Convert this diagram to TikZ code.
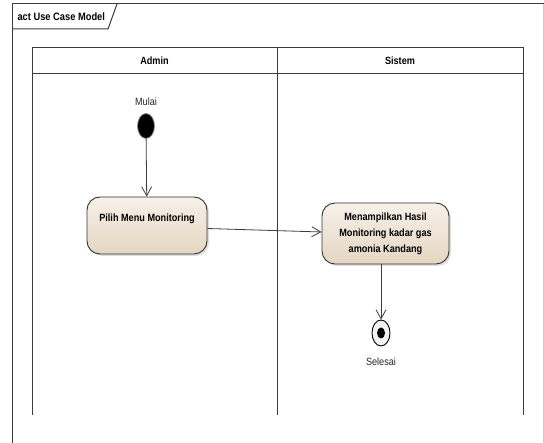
\documentclass[tikz,border=0pt]{standalone}
\usepackage{fontspec}
\setmainfont{Liberation Sans}
\newfontfamily\diagfont[FakeStretch=0.87]{Liberation Sans}
\usetikzlibrary{positioning}
\usetikzlibrary{arrows,arrows.meta}
\usetikzlibrary{shadows}
\usetikzlibrary{shapes,shapes.geometric}

\definecolor{actfill}{HTML}{F1E7D9}
\definecolor{actdark}{HTML}{E4D6C2}
\definecolor{linegray}{HTML}{3C3C3C}

\begin{document}
\begin{tikzpicture}[
        x=1pt, y=-1pt,
        >={Straight Barb[length=9pt,width=10pt]},
        frameline/.style = {draw=linegray, line width=1pt},
        action/.style = {draw=black!80, line width=0.9pt, rounded corners=13pt, top color=actfill!60, bottom color=actdark,
            drop shadow={shadow xshift=2pt, shadow yshift=-2pt, opacity=0.25}, font=\diagfont\fontsize{10.5}{16}\selectfont\bfseries,
            align=center, inner sep=0pt},
        flow/.style = {->, draw=linegray, line width=0.8pt},
        lbl/.style = {font=\diagfont\fontsize{10.5}{10}\selectfont, text=black!85},
        lanehead/.style = {font=\diagfont\fontsize{10.5}{10}\selectfont\bfseries}
    ]
    \useasboundingbox[fill=white] (0,0) rectangle (544,443);
    % frame with title tab
    \draw[frameline] (12,443) -- (12,4) -- (544,4);
    \draw[draw=black!20] (543,4) -- (543,443);
    \draw[frameline] (12,29) -- (108,29) -- (117,4);
    \node[anchor=west, font=\diagfont\fontsize{10.7}{10}\selectfont\bfseries] (title) at (14,17) {act Use Case Model};
    % swimlanes
    \draw[frameline] (32,415) -- (32,48) -- (523,48) -- (523,415);
    \draw[frameline] (32,74) -- (523,74);
    \draw[frameline] (277,48) -- (277,415);
    \node[lanehead] (admin) at (154.5,61) {Admin};
    \node[lanehead] (sistem) at (400,61) {Sistem};
    % nodes
    \node[ellipse, fill=black, draw=black!45, line width=0.8pt, minimum width=17pt, minimum height=25pt, inner sep=0pt] (mulai) at (146,126) {};
    \node[lbl] (mulaitxt) at (146,102) {Mulai};
    \node[action, minimum width=120pt, minimum height=57pt, text depth=15pt] (pilih) at (147,225.5) {Pilih Menu Monitoring};
    \node[action, minimum width=127pt, minimum height=61pt] (tampil) at (385.5,233.5)
        {Menampilkan Hasil\\Monitoring kadar gas\\amonia Kandang};
    \node[ellipse, fill=white!95!black, draw=black, line width=0.9pt, minimum width=18pt, minimum height=26pt, inner sep=0pt] (selesai) at (381,333) {};
    \node[ellipse, fill=black, minimum width=8pt, minimum height=11pt, inner sep=0pt] (selesaidot) at (selesai.center) {};
    \node[lbl] (selesaitxt) at (381,362) {Selesai};
    % connectors
    \draw[flow] (mulai) -- (pilih);
    \draw[flow] ([yshift=-3pt]pilih.east) -- ([yshift=1.5pt]tampil.west);
    \draw[flow] ([xshift=-4.5pt]tampil.south) -- (selesai);
\end{tikzpicture}
\end{document}
